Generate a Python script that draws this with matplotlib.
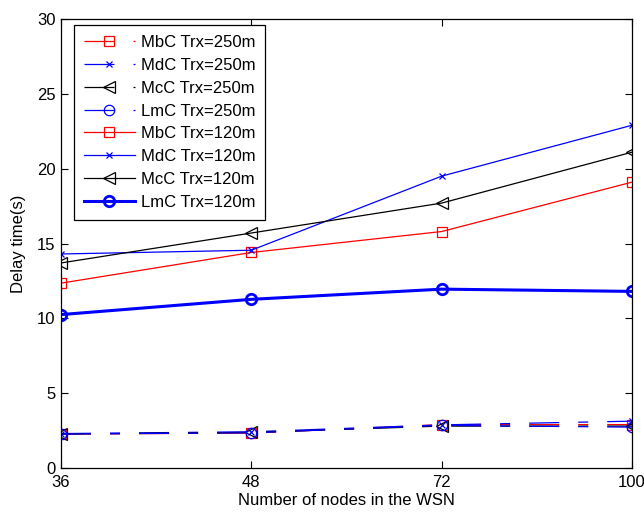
import matplotlib
matplotlib.use("Agg")
import matplotlib.pyplot as plt
import numpy as np

plt.rcParams['font.family'] = ['Liberation Sans', 'DejaVu Sans']
plt.rcParams['lines.scale_dashes'] = False

nodes = ["36", "48", "72", "100"]

# Trx = 250m
mbc_250 = [2.27, 2.33, 2.90, 2.90]
mdc_250 = [2.30, 2.42, 2.88, 3.13]
mcc_250 = [2.27, 2.38, 2.80, 2.80]
lmc_250 = [2.27, 2.35, 2.85, 2.73]

# Trx = 120m
mbc_120 = [12.35, 14.40, 15.80, 19.10]
mdc_120 = [14.30, 14.55, 19.50, 22.90]
mcc_120 = [13.70, 15.70, 17.70, 21.10]
lmc_120 = [10.25, 11.27, 11.95, 11.80]

x = np.arange(len(nodes))

fig = plt.figure(figsize=(6.44, 5.16), dpi=100)
ax = fig.add_axes([61/644, (516-468)/516, (632-61)/644, (468-19)/516])

dd = (0, (21.6, 13.7, 7.2, 13.7))
lw = 0.9
ax.plot(x, mbc_250, color='red', ls=dd, lw=lw, marker='s', mfc='none', ms=7.3, mew=0.9, label='MbC Trx=250m')
ax.plot(x, mdc_250, color='blue', ls=dd, lw=lw, marker='x', ms=4.5, mew=0.9, label='MdC Trx=250m')
ax.plot(x, mcc_250, color='black', ls=dd, lw=lw, marker='<', mfc='none', ms=8.5, mew=0.9, label='McC Trx=250m')
ax.plot(x, lmc_250, color='blue', ls=dd, lw=lw, marker='o', mfc='none', ms=7.5, mew=0.9, label='LmC Trx=250m')
ax.plot(x, mbc_120, color='red', ls='-', lw=lw, marker='s', mfc='none', ms=7.3, mew=0.9, label='MbC Trx=120m')
ax.plot(x, mdc_120, color='blue', ls='-', lw=lw, marker='x', ms=4.5, mew=0.9, label='MdC Trx=120m')
ax.plot(x, mcc_120, color='black', ls='-', lw=lw, marker='<', mfc='none', ms=8.5, mew=0.9, label='McC Trx=120m')
ax.plot(x, lmc_120, color='blue', ls='-', lw=2.2, marker='o', mfc='none', ms=7.5, mew=2.0, label='LmC Trx=120m')

ax.set_xlim(0, 3)
ax.set_ylim(0, 30)
ax.set_xticks(x)
ax.set_xticklabels(nodes)
ax.set_yticks(np.arange(0, 31, 5))
ax.tick_params(direction='in', top=True, right=True, labelsize=12, length=5, width=0.8)
ax.tick_params(axis='x', pad=5)
ax.tick_params(axis='y', pad=4)
for s in ax.spines.values():
    s.set_linewidth(0.9)
ax.set_xlabel('Number of nodes in the WSN', fontsize=12, labelpad=2)
ax.set_ylabel('Delay time(s)', fontsize=12, labelpad=8)

leg = ax.legend(loc='upper left', bbox_to_anchor=((74-61)/571, (468-25)/449), borderaxespad=0,
                fontsize=12, frameon=True, fancybox=False, edgecolor='black', framealpha=1,
                handlelength=3.05, handletextpad=0.36, labelspacing=0.47, borderpad=0.6)
leg.get_frame().set_linewidth(0.9)

fig.savefig('out.png', dpi=100)
